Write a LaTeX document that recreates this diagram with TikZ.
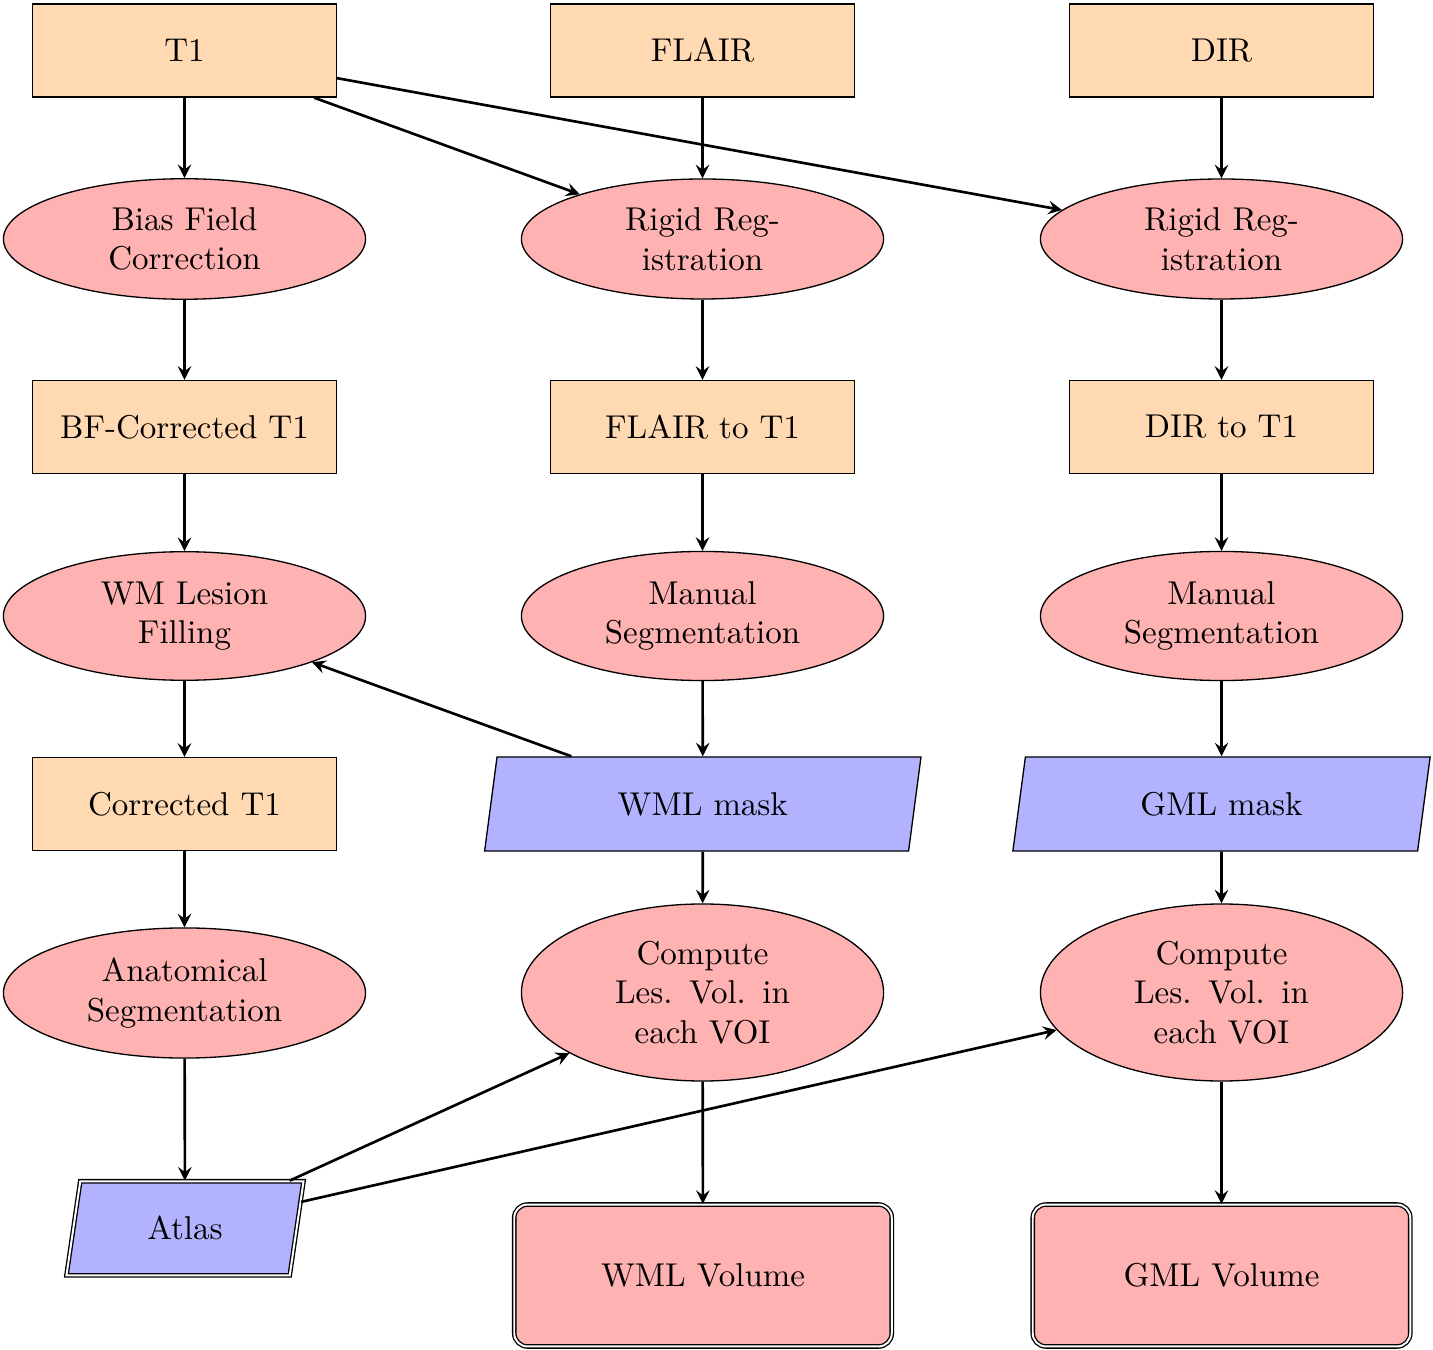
\documentclass[tikz,border=0pt]{standalone}
\usetikzlibrary{shapes.geometric,arrows}
\begin{document}
\begin{tikzpicture}[x=0.30303pt,y=-0.30303pt,
  datbox/.style={draw, rectangle, fill=orange!30, minimum width=92pt, minimum height=28.2pt, inner sep=2pt},
  procell/.style={draw, ellipse, fill=red!30, text width=60pt, align=center, inner xsep=8.8pt, inner ysep=3.33pt},
  iobox/.style={draw, trapezium, trapezium left angle=80, trapezium right angle=100, trapezium stretches=true, fill=blue!30, minimum width=132.3pt, minimum height=28.5pt, inner sep=1pt},
  atlasbox/.style={iobox, double, minimum width=72pt},
  resbox/.style={draw, double, rectangle, rounded corners=4pt, fill=red!30, minimum width=114.4pt, minimum height=43pt},
  conn/.style={thick, -stealth}]
\useasboundingbox (0,0) rectangle (1433,1350);
% column 1
\node[datbox] (t1) at (184.5,50.5) {T1};
\node[procell] (bias) at (184.5,239) {Bias Field Correction};
\node[datbox] (bfc) at (184.5,427) {BF-Corrected T1};
\node[procell] (wmlf) at (184.5,616) {WM Lesion Filling};
\node[datbox] (corr) at (184.5,804) {Corrected T1};
\node[procell] (anat) at (184.5,993) {Anatomical Segmentation};
\node[atlasbox] (atlas) at (185,1228.3) {Atlas};
% column 2
\node[datbox] (flair) at (702.5,50.5) {FLAIR};
\node[procell] (rr1) at (702.5,239) {Rigid Reg-\\istration};
\node[datbox] (f2t) at (702.5,427) {FLAIR to T1};
\node[procell] (ms1) at (702.5,616) {Manual Segmentation};
\node[iobox] (wmlm) at (702.8,804) {WML mask};
\node[procell] (c1) at (702.5,992.5) {Compute\\Les. Vol. in\\each VOI};
\node[resbox] (wmlv) at (703,1275.5) {WML Volume};
% column 3
\node[datbox] (dir) at (1221.5,50.5) {DIR};
\node[procell] (rr2) at (1221.5,239) {Rigid Reg-\\istration};
\node[datbox] (d2t) at (1221.5,427) {DIR to T1};
\node[procell] (ms2) at (1221.5,616) {Manual Segmentation};
\node[iobox, minimum width=127pt] (gmlm) at (1221.5,804) {GML mask};
\node[procell] (c2) at (1221.5,992.5) {Compute\\Les. Vol. in\\each VOI};
\node[resbox] (gmlv) at (1221.5,1275.5) {GML Volume};
% connectors
\draw[conn] (t1) -- (bias);
\draw[conn] (bias) -- (bfc);
\draw[conn] (bfc) -- (wmlf);
\draw[conn] (wmlf) -- (corr);
\draw[conn] (corr) -- (anat);
\draw[conn] (anat) -- (atlas);
\draw[conn] (flair) -- (rr1);
\draw[conn] (rr1) -- (f2t);
\draw[conn] (f2t) -- (ms1);
\draw[conn] (ms1) -- (wmlm);
\draw[conn] (wmlm) -- (c1);
\draw[conn] (c1) -- (wmlv);
\draw[conn] (dir) -- (rr2);
\draw[conn] (rr2) -- (d2t);
\draw[conn] (d2t) -- (ms2);
\draw[conn] (ms2) -- (gmlm);
\draw[conn] (gmlm) -- (c2);
\draw[conn] (c2) -- (gmlv);
\draw[conn] (t1) -- (rr1);
\draw[conn] (t1) -- (rr2);
\draw[conn] (wmlm) -- (wmlf);
\draw[conn] (atlas) -- (c1);
\draw[conn] (atlas) -- (c2);
\end{tikzpicture}
\end{document}
